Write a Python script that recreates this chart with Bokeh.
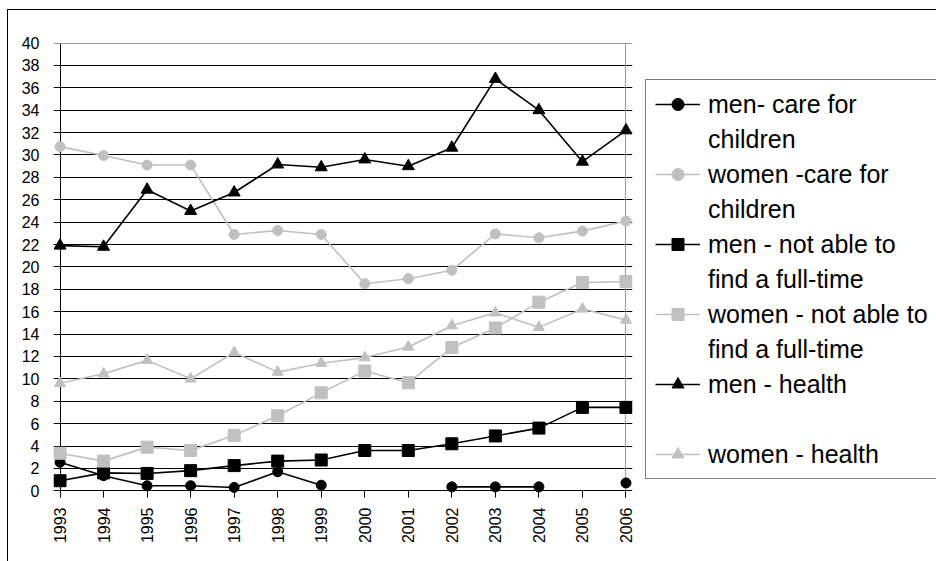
import math
from bokeh.plotting import figure
from bokeh.layouts import row
from bokeh.models import Legend, LegendItem, FixedTicker, Range1d, Grid
from bokeh.embed import file_html
from bokeh.resources import INLINE

nan = float("nan")

years = list(range(1993, 2007))
men_care = [2.55, 1.35, 0.45, 0.45, 0.3, 1.7, 0.5, nan, nan, 0.35, 0.35, 0.35, nan, 0.7]
women_care = [30.75, 29.95, 29.1, 29.1, 22.9, 23.25, 22.9, 18.5, 18.95, 19.7, 22.95, 22.6, 23.2, 24.1]
men_fulltime = [0.9, 1.6, 1.55, 1.8, 2.25, 2.65, 2.75, 3.6, 3.6, 4.2, 4.9, 5.6, 7.45, 7.45]
women_fulltime = [3.35, 2.65, 3.9, 3.6, 4.95, 6.7, 8.75, 10.7, 9.65, 12.8, 14.55, 16.85, 18.6, 18.7]
men_health = [21.9, 21.8, 26.9, 25.0, 26.65, 29.15, 28.9, 29.6, 29.0, 30.65, 36.8, 34.0, 29.4, 32.2]
women_health = [9.6, 10.45, 11.65, 10.0, 12.35, 10.6, 11.4, 11.9, 12.85, 14.75, 15.9, 14.6, 16.25, 15.25]

# legend labels: (first line, continuation line or None)
labels = [
    ("men- care for", "children"),
    ("women -care for", "children"),
    ("men - not able to", "find a full-time"),
    ("women - not able to", "find a full-time"),
    ("men - health", "\u00a0"),
    ("women - health", None),
]
y_ticks = list(range(0, 41, 2))

BLACK = "#000000"
GRAY = "#c0c0c0"
FRAME_GRAY = "#999999"
FONT = "Liberation Sans"

p = figure(width=638, height=561,
           x_range=Range1d(1992.85, 2006.15), y_range=Range1d(-0.6, 40.05),
           output_backend="svg", toolbar_location=None,
           min_border_left=53, min_border_right=6,
           min_border_top=42, min_border_bottom=64)
p.styles = {"box-shadow": "inset 7px 9px 0 0 #ffffff, inset 8px 10px 0 0 #000000"}
p.outline_line_color = None
p.background_fill_color = "white"
p.border_fill_alpha = 0

# x axis (line drawn by the 0 grid line, ticks point up into the frame)
p.xaxis.ticker = FixedTicker(ticks=years)
p.xaxis.major_label_orientation = math.pi / 2
p.xaxis.major_label_text_font = FONT
p.xaxis.major_label_text_font_size = "16px"
p.xaxis.major_label_text_color = BLACK
p.xaxis.major_label_standoff = 10
p.xaxis.major_tick_out = 0
p.xaxis.major_tick_in = 7
p.xaxis.minor_tick_line_color = None
p.xaxis.axis_line_color = None
p.xaxis.major_tick_line_color = BLACK

# y axis (ticks given by grid-line overhang)
p.yaxis.ticker = FixedTicker(ticks=y_ticks)
p.yaxis.major_label_text_font = FONT
p.yaxis.major_label_text_font_size = "16px"
p.yaxis.major_label_text_color = BLACK
p.yaxis.major_label_standoff = 8
p.yaxis.major_tick_line_color = None
p.yaxis.minor_tick_line_color = None
p.yaxis.axis_line_color = None

# grids
p.xgrid.ticker = FixedTicker(ticks=[1993])
p.xgrid.grid_line_color = BLACK
p.ygrid.ticker = FixedTicker(ticks=y_ticks[:-1])
p.ygrid.grid_line_color = BLACK
p.ygrid.grid_line_width = 1
p.add_layout(Grid(dimension=1, ticker=FixedTicker(ticks=[40]), grid_line_color=FRAME_GRAY))
p.add_layout(Grid(dimension=0, ticker=FixedTicker(ticks=[2006]), grid_line_color=FRAME_GRAY))

series = [
    (men_care, BLACK, "circle", 10, 8),
    (women_care, GRAY, "circle", 10, 8),
    (men_fulltime, BLACK, "square", 12, 10),
    (women_fulltime, GRAY, "square", 12, 10),
    (men_health, BLACK, "triangle", 12, 10),
    (women_health, GRAY, "triangle", 11, 10),
]

# legend figure (to the right of the chart); its own ranges keep the data off-view
q = figure(width=298, height=561, x_range=(0, 1), y_range=(0, 1),
           output_backend="svg", toolbar_location=None,
           x_axis_location=None, y_axis_location=None,
           min_border=0)
q.styles = {"box-shadow": "inset 0 9px 0 0 #ffffff, inset 0 10px 0 0 #000000"}
q.grid.visible = False
q.outline_line_color = None
q.background_fill_alpha = 0
q.border_fill_alpha = 0

items = []
for (vals, color, marker, size, leg_size), (line1, line2) in zip(series, labels):
    p.line(years, vals, line_color=color, line_width=1.6)
    p.scatter(years, vals, marker=marker, size=size,
              fill_color=color, line_color=color)
    lr = q.line(years, vals, line_color=color, line_width=1.4)
    sr = q.scatter(years, vals, marker=marker, size=leg_size,
                   fill_color=color, line_color=color)
    items.append(LegendItem(label=line1, renderers=[lr, sr]))
    if line2 is not None:
        items.append(LegendItem(label=line2, renderers=[]))

legend = Legend(items=items, location=(7, 18),
                label_text_font=FONT, label_text_font_size="25px",
                label_text_color=BLACK,
                label_height=30, glyph_height=30, glyph_width=45,
                label_standoff=8, spacing=5, padding=9, margin=0,
                border_line_color=BLACK, border_line_width=1,
                background_fill_color="white", background_fill_alpha=1.0)
q.add_layout(legend)

layout = row(p, q, spacing=0)
open("out.html", "w").write(file_html(layout, INLINE))
